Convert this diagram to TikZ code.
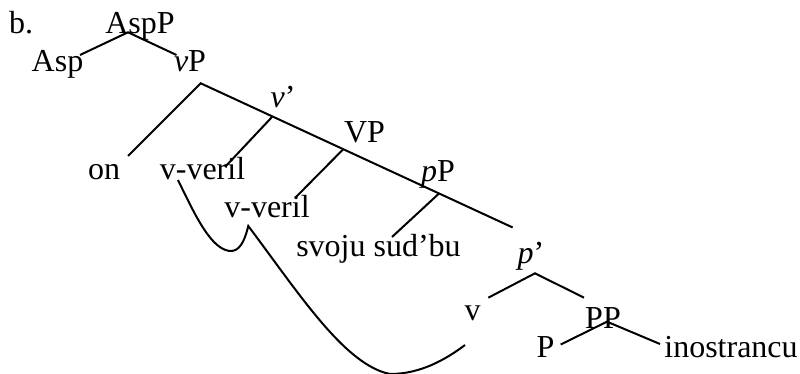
\documentclass[tikz,border=0pt]{standalone}
\usepackage{fontspec}
\setmainfont{Liberation Serif}
\begin{document}
\begin{tikzpicture}[x=1pt,y=-1pt,
  lbl/.style={anchor=base,inner sep=0pt,font=\fontsize{32}{38}\selectfont},
  branch/.style={line width=2pt},
  movement/.style={line width=2pt,line join=miter}]
\useasboundingbox (0,0) rectangle (800,374);
% labels
\node[lbl,anchor=base west] (b) at (9,34) {b.};
\node[lbl] (AspP) at (140,34) {AspP};
\node[lbl] (Asp) at (57.5,72) {Asp};
\node[lbl] (vP) at (190,72) {\textit{v}P};
\node[lbl] (vbar) at (283,108) {\textit{v}’};
\node[lbl] (on) at (104,180) {on};
\node[lbl] (vveril1) at (202.5,180) {v-veril};
\node[lbl] (VP) at (364.5,143) {VP};
\node[lbl] (vveril2) at (267,218) {v-veril};
\node[lbl] (pP) at (438,182) {\textit{p}P};
\node[lbl] (sudbu) at (378.5,256) {svoju sud’bu};
\node[lbl] (pbar) at (531,263) {\textit{p}’};
\node[lbl] (v) at (472.5,320) {v};
\node[lbl] (PP) at (603,328) {PP};
\node[lbl] (P) at (545.5,357) {P};
\node[lbl] (inostrancu) at (731,357) {inostrancu};
% branch points
\coordinate (AspPb) at (128,32.3);
\coordinate (Aspt) at (80,55);
\coordinate (vPt) at (176.5,55);
\coordinate (vPb) at (200.7,83.3);
\coordinate (ont) at (128,156);
\coordinate (pend) at (512.7,227.5);
\coordinate (vbarb) at (272,117);
\coordinate (vv1t) at (225,167);
\coordinate (VPb) at (343,149.5);
\coordinate (vv2t) at (296,197);
\coordinate (pPb) at (439,193.5);
\coordinate (sudt) at (392,237);
\coordinate (pbarb) at (535,273.3);
\coordinate (vt) at (488.3,297.7);
\coordinate (PPt) at (584,297.7);
\coordinate (PPb) at (607,321.7);
\coordinate (Pt) at (560.7,344.5);
\coordinate (inot) at (660,344);
% tree lines
\draw[branch] (Aspt) -- (AspPb) -- (vPt);
\draw[branch] (ont) -- (vPb) -- (pend);
\draw[branch] (vbarb) -- (vv1t);
\draw[branch] (VPb) -- (vv2t);
\draw[branch] (pPb) -- (sudt);
\draw[branch] (vt) -- (pbarb) -- (PPt);
\draw[branch] (Pt) -- (PPb) -- (inot);
% movement line
\coordinate (mstart) at (178,180);
\coordinate (cusp) at (248.3,226);
\coordinate (mend) at (465,345);
\draw[movement] (mstart) .. controls (195,215) and (212,252) .. (232,251)
  .. controls (242,250) and (246,235) .. (cusp)
  .. controls (300,295) and (345,365) .. (390,374)
  .. controls (420,374) and (445,360) .. (mend);
\end{tikzpicture}
\end{document}
